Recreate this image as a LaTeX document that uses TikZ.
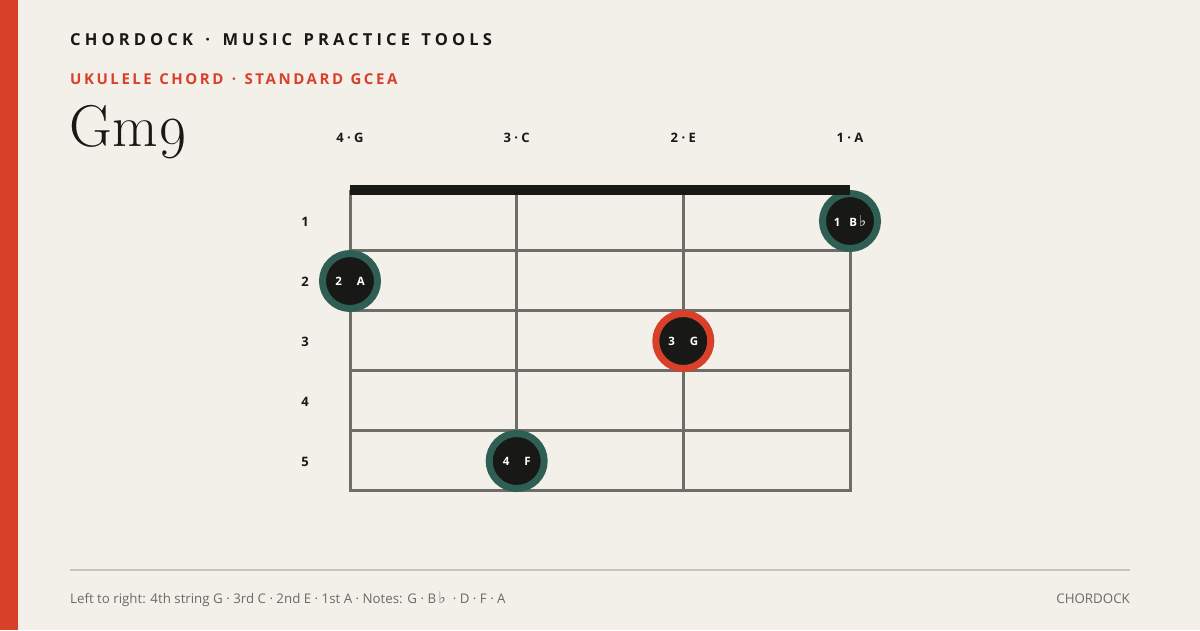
\documentclass[tikz,border=0pt]{standalone}
\usepackage{fontspec}
\setmainfont{Latin Modern Roman}
\newfontfamily\osans{Open Sans}
\newfontfamily\osansb{Open Sans Bold}
\newfontfamily\titlef[LetterSpace=25]{Open Sans Bold}
\newfontfamily\subf[LetterSpace=17]{Open Sans Bold}
\newfontfamily\symf{DejaVu Sans}
\definecolor{bg}{HTML}{F3F0EA}
\definecolor{accent}{HTML}{D9402A}
\definecolor{ink}{HTML}{181816}
\definecolor{gridc}{HTML}{6E6D68}
\definecolor{teal}{HTML}{2F5E55}
\definecolor{rule}{HTML}{C9C5BD}
\definecolor{foot}{HTML}{6B6A66}
\newcommand{\flatsym}[1]{{\symf\fontsize{#1}{#1}\selectfont\char"266D}}
\tikzset{
  gridline/.style={draw=gridc, line width=3pt},
  nutbar/.style={fill=ink, draw=none},
  fingerdot/.style={circle, fill=ink, draw=teal, line width=7pt, minimum size=55pt, inner sep=0pt, text=white, font=\osansb\fontsize{11.5}{13}\selectfont},
  rootdot/.style={fingerdot, draw=accent},
  strlabel/.style={font=\osansb\fontsize{13}{15}\selectfont, text=ink, anchor=base},
  fretlabel/.style={font=\osansb\fontsize{13}{15}\selectfont, text=ink},
}
\begin{document}
\begin{tikzpicture}[x=1pt,y=-1pt]
\useasboundingbox (0,0) rectangle (1200,630);
\fill[bg] (0,0) rectangle (1200,630);
\fill[accent] (0,0) rectangle (18,630);
% header
\node[anchor=base west, inner sep=0pt, text=ink, font=\titlef\fontsize{16.5}{20}\selectfont] (title) at (70,45) {CHORDOCK\hspace{4pt} · \hspace{4pt}MUSIC\hspace{3pt} PRACTICE\hspace{3pt} TOOLS};
\node[anchor=base west, inner sep=0pt, text=accent, font=\subf\fontsize{15}{18}\selectfont] (sub) at (70,84) {UKULELE\hspace{1pt} CHORD\hspace{2pt} · \hspace{2pt}STANDARD\hspace{1pt} GCEA};
\node[anchor=base west, inner sep=0pt, text=ink, font=\fontsize{59}{60}\selectfont] (chord) at (69,146) {Gm\oldstylenums{9}};
% string labels
\node[strlabel] (s4) at (350,142) {4 · G};
\node[strlabel] (s3) at (516.7,142) {3 · C};
\node[strlabel] (s2) at (683.3,142) {2 · E};
\node[strlabel] (s1) at (850,142) {1 · A};
% fret numbers
\foreach \f/\y in {1/222,2/282,3/342,4/402,5/462}
  \node[fretlabel] (fn\f) at (305,\y) {\f};
% grid
\foreach \y in {250,310,370,430,490}
  \draw[gridline] (350,\y) -- (850,\y);
\foreach \x in {350,516.7,683.3,850}
  \draw[gridline] (\x,190) -- (\x,491.5);
% dots
\node[fingerdot] (d1) at (850,221) {1\hspace{9pt}B\hspace{2pt}\flatsym{15}};
\node[fingerdot] (d2) at (350,281) {2\hspace{15pt}A};
\node[rootdot] (d3) at (683.3,341) {3\hspace{15pt}G};
\node[fingerdot] (d4) at (516.7,461) {4\hspace{15pt}F};
% nut
\fill[nutbar] (350,185) rectangle (850,195);
% footer
\draw[rule, line width=2pt] (70,570) -- (1130,570);
\node[anchor=base west, inner sep=0pt, text=foot, font=\osans\fontsize{13.3}{15}\selectfont] (ft) at (70,603) {Left to right: 4th string G · 3rd C · 2nd E · 1st A · Notes: G · B\,\flatsym{16}\ \ · D · F · A};
\node[anchor=base east, inner sep=0pt, text=foot, font=\osans\fontsize{13.3}{15}\selectfont] (brand) at (1130,603) {CHORDOCK};
\end{tikzpicture}
\end{document}
